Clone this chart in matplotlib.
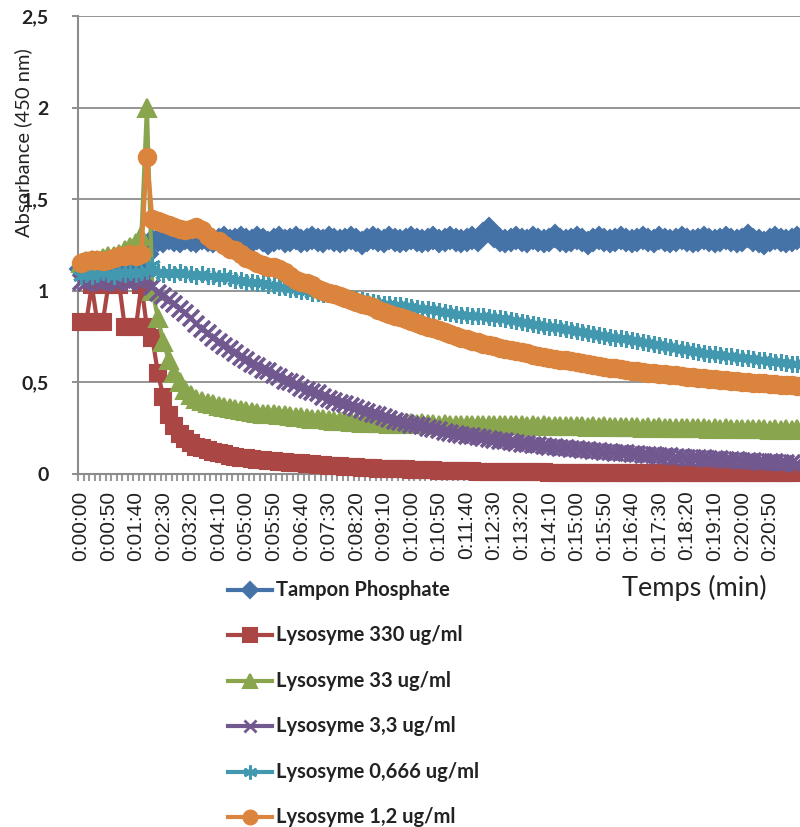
import matplotlib.pyplot as plt
import numpy as np
from matplotlib.lines import Line2D

plt.rcParams["font.family"] = ["Lato", "DejaVu Sans"]

# one reading every 10 s, 0:00:00 -> 0:21:40
time_labels = [
    "0:00:00", "0:00:50", "0:01:40", "0:02:30", "0:03:20", "0:04:10",
    "0:05:00", "0:05:50", "0:06:40", "0:07:30", "0:08:20", "0:09:10",
    "0:10:00", "0:10:50", "0:11:40", "0:12:30", "0:13:20", "0:14:10",
    "0:15:00", "0:15:50", "0:16:40", "0:17:30", "0:18:20", "0:19:10",
    "0:20:00", "0:20:50",
]
series_names = [
    "Tampon Phosphate",
    "Lysosyme 330 ug/ml",
    "Lysosyme 33 ug/ml",
    "Lysosyme 3,3 ug/ml",
    "Lysosyme 0,666 ug/ml",
    "Lysosyme 1,2 ug/ml",
]

tampon = [
    1.12, 1.13, 1.12, 1.13, 1.14, 1.13, 1.14, 1.13, 1.14, 1.15,
    1.15, 1.16, 1.20, 1.27, 1.28, 1.27, 1.29, 1.28, 1.27, 1.29,
    1.28, 1.27, 1.29, 1.28, 1.27, 1.28, 1.29, 1.27, 1.28, 1.29,
    1.28, 1.27, 1.29, 1.28, 1.26, 1.28, 1.29, 1.27, 1.28, 1.29,
    1.27, 1.28, 1.29, 1.28, 1.27, 1.29, 1.28, 1.27, 1.28, 1.29,
    1.28, 1.26, 1.28, 1.29, 1.28, 1.27, 1.29, 1.28, 1.27, 1.28,
    1.29, 1.28, 1.27, 1.28, 1.29, 1.27, 1.28, 1.29, 1.28, 1.27,
    1.28, 1.29, 1.28, 1.31, 1.34, 1.30, 1.28, 1.27, 1.28, 1.29,
    1.28, 1.27, 1.29, 1.28, 1.27, 1.28, 1.30, 1.28, 1.27, 1.28,
    1.29, 1.28, 1.26, 1.28, 1.29, 1.28, 1.27, 1.28, 1.29, 1.28,
    1.27, 1.28, 1.29, 1.28, 1.27, 1.29, 1.28, 1.27, 1.28, 1.29,
    1.28, 1.27, 1.28, 1.29, 1.28, 1.27, 1.28, 1.29, 1.28, 1.27,
    1.28, 1.30, 1.28, 1.27, 1.26, 1.28, 1.29, 1.28, 1.27, 1.28,
    1.29,
]
lyso_330 = [
    0.83, 0.83, 1.03, 0.83, 0.83, 1.03, 1.04, 1.03, 0.80, 0.80,
    0.80, 1.03, 0.80, 0.74, 0.55, 0.42, 0.32, 0.26, 0.22, 0.19,
    0.17, 0.15, 0.14, 0.13, 0.12, 0.115, 0.11, 0.10, 0.095, 0.09,
    0.085, 0.08, 0.078, 0.075, 0.072, 0.07, 0.067, 0.065, 0.062, 0.06,
    0.058, 0.055, 0.053, 0.05, 0.048, 0.046, 0.044, 0.042, 0.04, 0.038,
    0.036, 0.035, 0.033, 0.032, 0.03, 0.029, 0.028, 0.027, 0.026, 0.025,
    0.024, 0.023, 0.022, 0.021, 0.02, 0.019, 0.018, 0.017, 0.016, 0.015,
    0.015, 0.014, 0.013, 0.013, 0.012, 0.012, 0.011, 0.011, 0.010, 0.010,
    0.010, 0.010, 0.009, 0.009, 0.009, 0.008, 0.008, 0.008, 0.008, 0.007,
    0.007, 0.007, 0.007, 0.006, 0.006, 0.006, 0.006, 0.006, 0.005, 0.005,
    0.005, 0.005, 0.005, 0.005, 0.005, 0.005, 0.004, 0.004, 0.004, 0.004,
    0.004, 0.004, 0.004, 0.004, 0.004, 0.004, 0.004, 0.004, 0.004, 0.004,
    0.004, 0.004, 0.004, 0.004, 0.004, 0.004, 0.004, 0.004, 0.004, 0.004,
    0.004,
]
lyso_33 = [
    1.15, 1.16, 1.17, 1.17, 1.18, 1.19, 1.19, 1.20, 1.22, 1.24,
    1.26, 1.30, 2.00, 1.00, 0.85, 0.72, 0.62, 0.55, 0.50, 0.46,
    0.43, 0.41, 0.40, 0.39, 0.38, 0.37, 0.365, 0.36, 0.355, 0.35,
    0.345, 0.34, 0.335, 0.33, 0.33, 0.325, 0.32, 0.32, 0.315, 0.31,
    0.31, 0.305, 0.30, 0.30, 0.30, 0.295, 0.29, 0.29, 0.29, 0.285,
    0.285, 0.28, 0.28, 0.28, 0.28, 0.28, 0.275, 0.275, 0.275, 0.28,
    0.28, 0.275, 0.28, 0.275, 0.275, 0.27, 0.275, 0.27, 0.27, 0.27,
    0.27, 0.27, 0.265, 0.27, 0.265, 0.27, 0.265, 0.265, 0.265, 0.265,
    0.265, 0.26, 0.265, 0.26, 0.265, 0.26, 0.26, 0.26, 0.26, 0.26,
    0.26, 0.26, 0.255, 0.26, 0.255, 0.26, 0.255, 0.255, 0.255, 0.255,
    0.255, 0.255, 0.25, 0.255, 0.25, 0.255, 0.25, 0.25, 0.25, 0.25,
    0.25, 0.25, 0.25, 0.25, 0.245, 0.25, 0.245, 0.25, 0.245, 0.245,
    0.245, 0.245, 0.245, 0.245, 0.245, 0.24, 0.245, 0.24, 0.245, 0.24,
    0.245,
]
lyso_3_3 = [
    1.05, 1.04, 1.06, 1.05, 1.04, 1.06, 1.05, 1.04, 1.06, 1.05,
    1.06, 1.05, 1.07, 1.02, 0.99, 0.97, 0.95, 0.93, 0.90, 0.88,
    0.85, 0.82, 0.79, 0.77, 0.74, 0.72, 0.70, 0.68, 0.66, 0.64,
    0.62, 0.60, 0.59, 0.57, 0.56, 0.54, 0.53, 0.51, 0.50, 0.49,
    0.47, 0.46, 0.45, 0.44, 0.42, 0.41, 0.40, 0.39, 0.38, 0.37,
    0.36, 0.35, 0.34, 0.33, 0.32, 0.31, 0.30, 0.29, 0.285, 0.28,
    0.27, 0.265, 0.26, 0.25, 0.245, 0.24, 0.23, 0.225, 0.22, 0.215,
    0.21, 0.205, 0.20, 0.195, 0.19, 0.185, 0.18, 0.178, 0.174, 0.17,
    0.166, 0.163, 0.16, 0.156, 0.153, 0.15, 0.147, 0.144, 0.141, 0.138,
    0.135, 0.132, 0.13, 0.127, 0.124, 0.121, 0.119, 0.117, 0.114, 0.112,
    0.11, 0.108, 0.106, 0.104, 0.102, 0.10, 0.098, 0.096, 0.094, 0.092,
    0.09, 0.088, 0.086, 0.085, 0.083, 0.081, 0.08, 0.078, 0.076, 0.075,
    0.073, 0.071, 0.07, 0.068, 0.066, 0.065, 0.063, 0.062, 0.06, 0.058,
    0.057,
]
lyso_0_666 = [
    1.08, 1.09, 1.08, 1.09, 1.10, 1.09, 1.08, 1.10, 1.09, 1.10,
    1.09, 1.10, 1.11, 1.14, 1.10, 1.09, 1.10, 1.09, 1.10, 1.09,
    1.09, 1.08, 1.09, 1.08, 1.08, 1.07, 1.08, 1.07, 1.06, 1.06,
    1.05, 1.05, 1.04, 1.04, 1.03, 1.03, 1.02, 1.02, 1.01, 1.01,
    1.00, 1.00, 0.99, 0.99, 0.98, 0.98, 0.975, 0.97, 0.965, 0.96,
    0.955, 0.95, 0.945, 0.94, 0.935, 0.93, 0.93, 0.925, 0.92, 0.915,
    0.91, 0.905, 0.90, 0.90, 0.895, 0.89, 0.885, 0.88, 0.875, 0.87,
    0.87, 0.865, 0.86, 0.86, 0.855, 0.85, 0.85, 0.845, 0.84, 0.835,
    0.83, 0.825, 0.82, 0.815, 0.81, 0.805, 0.80, 0.795, 0.79, 0.785,
    0.78, 0.775, 0.77, 0.765, 0.76, 0.755, 0.75, 0.745, 0.74, 0.735,
    0.73, 0.725, 0.72, 0.715, 0.71, 0.705, 0.70, 0.695, 0.69, 0.685,
    0.675, 0.67, 0.665, 0.66, 0.657, 0.653, 0.65, 0.646, 0.642, 0.638,
    0.635, 0.631, 0.627, 0.624, 0.62, 0.616, 0.613, 0.61, 0.607, 0.603,
    0.60,
]
lyso_1_2 = [
    1.15, 1.16, 1.17, 1.17, 1.16, 1.17, 1.18, 1.19, 1.19, 1.20,
    1.19, 1.20, 1.73, 1.39, 1.38, 1.37, 1.36, 1.35, 1.34, 1.33,
    1.34, 1.35, 1.33, 1.30, 1.28, 1.27, 1.25, 1.23, 1.22, 1.20,
    1.18, 1.17, 1.15, 1.14, 1.13, 1.13, 1.12, 1.10, 1.08, 1.06,
    1.05, 1.04, 1.03, 1.01, 1.00, 0.99, 0.98, 0.97, 0.96, 0.95,
    0.94, 0.93, 0.92, 0.91, 0.895, 0.885, 0.875, 0.865, 0.855, 0.845,
    0.835, 0.825, 0.815, 0.805, 0.795, 0.785, 0.775, 0.765, 0.755, 0.745,
    0.735, 0.727, 0.72, 0.712, 0.705, 0.697, 0.69, 0.683, 0.676, 0.67,
    0.664, 0.658, 0.652, 0.646, 0.64, 0.635, 0.63, 0.625, 0.62, 0.615,
    0.61, 0.605, 0.60, 0.595, 0.59, 0.585, 0.58, 0.576, 0.572, 0.568,
    0.564, 0.56, 0.556, 0.553, 0.55, 0.547, 0.544, 0.541, 0.538, 0.535,
    0.532, 0.529, 0.526, 0.523, 0.52, 0.517, 0.514, 0.511, 0.508, 0.505,
    0.502, 0.50, 0.498, 0.496, 0.494, 0.492, 0.49, 0.488, 0.486, 0.484,
    0.48,
]

all_values = [tampon, lyso_330, lyso_33, lyso_3_3, lyso_0_666, lyso_1_2]
colors = ["#4572A7", "#AA4643", "#89A54E", "#71588F", "#4198AF", "#DB843D"]
markers = ["D", "s", "^", "x", (6, 2, 0), "o"]
msizes = [11, 12, 13, 11, 12, 12.5]
mews = [1.5, 1.5, 1.5, 2.6, 2.2, 1.5]
leg_msizes = [8, 10, 10, 9, 10, 10]

fig = plt.figure(figsize=(8, 8.27), dpi=100)
W, H = 800, 827
ax_left, ax_top, ax_bottom = 78, 16, 474
ax = fig.add_axes([ax_left / W, 1 - ax_bottom / H, 1 - ax_left / W, (ax_bottom - ax_top) / H])

handles = []
for name, vals, c, m, ms, mew in zip(series_names, all_values, colors, markers, msizes, mews):
    x = np.arange(len(vals))
    (ln,) = ax.plot(x, vals, color=c, lw=3, marker=m, ms=ms, mew=mew,
                    mec=c, mfc=c, clip_on=False, zorder=3, label=name)
    handles.append(ln)

ax.set_xlim(-0.5, 130.3)
ax.set_ylim(0, 2.5)
ax.set_yticks([0, 0.5, 1, 1.5, 2, 2.5], ["0", "0,5", "1", "1,5", "2", "2,5"])
ax.set_xticks(np.arange(0, 126, 5), time_labels, rotation=90,
              fontfamily="Liberation Sans")
ax.set_xticks(np.arange(-0.5, 131, 1), minor=True)
ax.tick_params(axis="x", which="major", length=0, pad=12, labelsize=15, colors="#222222")
ax.tick_params(axis="x", which="minor", length=5, width=1.5, color="#9a9a9a")
ax.tick_params(axis="y", length=4, width=1.3, color="#868686", pad=17,
               labelsize=14, labelcolor="#222222")
for lab in ax.get_yticklabels():
    lab.set_fontweight("bold")

ax.yaxis.grid(True, color="#8c8c8c", lw=1.3)
ax.set_axisbelow(True)
for s in ["top", "right"]:
    ax.spines[s].set_visible(False)
for s in ["left", "bottom"]:
    ax.spines[s].set_color("#8c8c8c")
    ax.spines[s].set_linewidth(1.5)

fig.text(23 / W, 1 - 143 / H, "Absorbance (450 nm)", rotation=90,
         ha="center", va="center", fontsize=14.5, color="#222222")
fig.text(694 / W, 1 - 588 / H, "Temps (min)", ha="center", va="center",
         fontsize=19.5, color="#222222")

# legend drawn below the plot, one row every ~45 px
for k, (h, name) in enumerate(zip(handles, series_names)):
    yc = 1 - (590 + 45.4 * k) / H
    fig.add_artist(Line2D([228 / W, 250 / W, 272 / W], [yc, yc, yc],
                          transform=fig.transFigure, color=h.get_color(), lw=3,
                          marker=h.get_marker(), ms=leg_msizes[k],
                          mew=min(h.get_markeredgewidth(), 2), mfc=h.get_color(),
                          mec=h.get_color(), markevery=[1]))
    fig.text(276 / W, yc, name, ha="left", va="center", fontsize=14.5,
             fontweight="bold", color="#222222")

fig.savefig("out.png", dpi=100)
